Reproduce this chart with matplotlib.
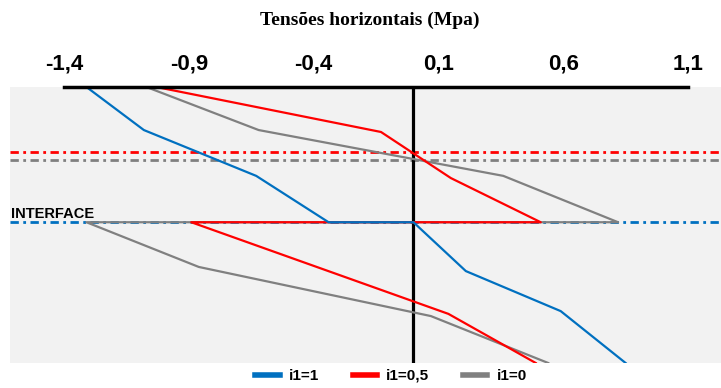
import matplotlib.pyplot as plt
from matplotlib.lines import Line2D

# Profundidade (unidades arbitrárias, 0 = topo, 10 = base), interface em 4,9
interface = 4.9
linha_vermelha = 2.36
linha_cinza = 2.64

# i1=1
depth_i1_1 = [0, 1.56, 3.22, 4.9, 4.9, 6.67, 8.12, 10]
tens_i1_1 = [-1.31, -1.08, -0.63, -0.34, 0.0, 0.21, 0.59, 0.85]

# i1=0,5
depth_i1_05 = [0, 1.63, 3.30, 4.9, 4.9, 8.22, 10]
tens_i1_05 = [-1.03, -0.13, 0.15, 0.51, -0.89, 0.14, 0.49]

# i1=0
depth_i1_0 = [0, 1.56, 3.22, 4.9, 4.9, 6.52, 8.30, 10]
tens_i1_0 = [-1.07, -0.62, 0.36, 0.82, -1.31, -0.86, 0.07, 0.54]

ticks = [-1.4, -0.9, -0.4, 0.1, 0.6, 1.1]
tick_labels = ['-1,4', '-0,9', '-0,4', '0,1', '0,6', '1,1']

azul = '#0070c0'
vermelho = '#ff0000'
cinza = '#808080'
traco = (0, (3, 1.6, 1, 1.6))

fig = plt.figure(figsize=(7.21, 3.88), dpi=100)
ax = fig.add_axes([10 / 721, 1 - 363 / 388, 711 / 721, 276 / 388])
ax.set_facecolor('#f2f2f2')

# linhas horizontais tracejadas
ax.axhline(linha_vermelha, color=vermelho, lw=2, ls=traco, zorder=1)
ax.axhline(linha_cinza, color=cinza, lw=2, ls=traco, zorder=1)
ax.axhline(interface, color=azul, lw=2, ls=traco, zorder=1)

# eixo vertical em zero
ax.axvline(0, color='black', lw=2.3, zorder=2)

ax.plot(tens_i1_0, depth_i1_0, color=cinza, lw=1.6, zorder=3)
ax.plot(tens_i1_05, depth_i1_05, color=vermelho, lw=1.6, zorder=4)
ax.plot(tens_i1_1, depth_i1_1, color=azul, lw=1.6, zorder=5)

ax.set_xlim(-1.4 - 54 / 249.6, 1.1 + 33 / 249.6)
ax.set_ylim(10, 0)

ax.xaxis.tick_top()
ax.set_xticks(ticks)
ax.set_xticklabels(tick_labels, fontsize=16, fontweight='bold', family='Liberation Sans')
ax.tick_params(axis='x', length=0, pad=9)
ax.set_yticks([])

for s in ['left', 'right', 'bottom']:
    ax.spines[s].set_visible(False)
ax.spines['top'].set_bounds(-1.4, 1.1)
ax.spines['top'].set_linewidth(2.5)
ax.spines['top'].set_zorder(6)

ax.text(0.001, interface - 0.17, 'INTERFACE', transform=ax.get_yaxis_transform(),
        fontsize=10.5, fontweight='bold', family='Liberation Sans', va='baseline', ha='left')

fig.text(370 / 721, 1 - 20 / 388, 'Tensões horizontais (Mpa)', ha='center', va='center',
         fontsize=14, fontweight='bold', family='Liberation Serif')

handles = [Line2D([], [], color=azul, lw=4),
           Line2D([], [], color=vermelho, lw=4),
           Line2D([], [], color=cinza, lw=4)]
leg = fig.legend(handles, ['i1=1', 'i1=0,5', 'i1=0'], loc='center',
                 bbox_to_anchor=(391 / 721, 1 - 376 / 388), ncol=3, frameon=False,
                 handlelength=1.6, handletextpad=0.6, columnspacing=2.2,
                 prop={'family': 'Liberation Sans', 'weight': 'bold', 'size': 11})

fig.savefig('out.png', dpi=100)
